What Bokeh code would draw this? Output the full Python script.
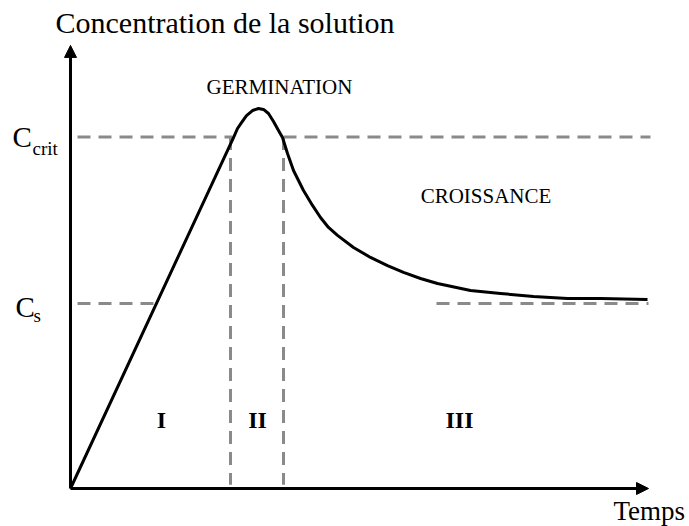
from bokeh.plotting import figure
from bokeh.models import Range1d, Arrow, NormalHead
from bokeh.core.properties import value
from bokeh.embed import file_html
from bokeh.resources import INLINE

# ---- data (arbitrary units: time, concentration) ----
time = [0.0, 3.26, 3.34, 3.42, 3.52, 3.64, 3.76, 3.86, 3.96, 4.06, 4.16, 4.24,
        4.34, 4.46, 4.66, 4.84, 5.00, 5.16, 5.34, 5.66, 6.00, 6.34, 6.66, 7.00,
        7.34, 8.00, 8.60, 9.26, 9.94, 10.60, 11.54]
conc = [0.0, 1.897, 1.946, 1.978, 2.016, 2.043, 2.054, 2.049, 2.027, 1.984, 1.935, 1.897,
        1.811, 1.719, 1.611, 1.530, 1.465, 1.411, 1.368, 1.303, 1.249, 1.205, 1.168, 1.135,
        1.108, 1.070, 1.054, 1.038, 1.027, 1.027, 1.022]

cs_level = 1.0          # C_s
ccrit_level = 1.90      # C_crit
t_cs_cross = 1.74       # time where the rising curve reaches C_s
t_nucl_start = 3.20     # start of stage II
t_nucl_end = 4.26       # end of stage II
t_cs_right_start = 7.32
t_end = 11.56
c_top = 2.395

stage_labels = ["I", "II", "III"]
stage_x = [1.82, 3.74, 7.78]

FONT = "Liberation Serif"
DASH_COLOR = "#8a8a8a"

W, H = 689, 526
PX_T, PX_C = 50.0, 185.0
# layout: origin at pixel x=70, y=488
x0 = (0 - 70) / PX_T
y1 = (488 - 0) / PX_C
p = figure(width=W, height=H, output_backend="svg", toolbar_location=None,
           x_range=Range1d(x0, x0 + W / PX_T), y_range=Range1d(y1 - H / PX_C, y1),
           x_axis_type=None, y_axis_type=None, min_border=0)
p.grid.visible = False
p.outline_line_color = None
p.background_fill_color = "white"
p.border_fill_color = "white"

# dashed reference lines
dash = dict(line_color=DASH_COLOR, line_width=3, line_dash="13 8")
p.segment(x0=[0.14, t_nucl_end, 0.14, t_cs_right_start],
          y0=[ccrit_level, ccrit_level, cs_level, cs_level],
          x1=[t_nucl_start + 0.04, t_end + 0.04, t_cs_cross, t_end],
          y1=[ccrit_level, ccrit_level, cs_level, cs_level], **dash)
p.segment(x0=[t_nucl_start, t_nucl_end], y0=[ccrit_level, ccrit_level],
          x1=[t_nucl_start, t_nucl_end], y1=[0.02, 0.02], **dash)

# curve
p.line(time, conc, line_color="black", line_width=3, line_join="round")

# axes as arrows
for xe, ye in [(0, c_top), (t_end, 0)]:
    p.add_layout(Arrow(end=NormalHead(size=12, fill_color="black", line_color="black", line_width=1),
                       x_start=0, y_start=0, x_end=xe, y_end=ye,
                       line_color="black", line_width=3))

def txt(x, y, s, size, align="left", style="normal"):
    yy = y + 0.37 * size / PX_C   # compensate baseline rendering offset
    p.text(x=[x], y=[yy], text=[s], text_font=value(FONT), text_font_size=f"{size}px",
           text_align=align, text_baseline="alphabetic", text_color="black",
           text_font_style=style)

txt(-0.30, 2.459, "Concentration de la solution", 30)
txt(10.86, -0.173, "Temps", 27)
txt(4.18, 2.130, "GERMINATION", 21, align="center")
txt(8.31, 1.541, "CROISSANCE", 21, align="center")
txt(-1.16, 1.843, "C", 29)
txt(-0.76, 1.800, "crit", 19)
txt(-1.10, 0.924, "C", 29)
txt(-0.74, 0.897, "s", 19)
for s, x in zip(stage_labels, stage_x):
    txt(x, 0.324, s, 24, align="center", style="bold")

open("out.html", "w").write(file_html(p, INLINE))
